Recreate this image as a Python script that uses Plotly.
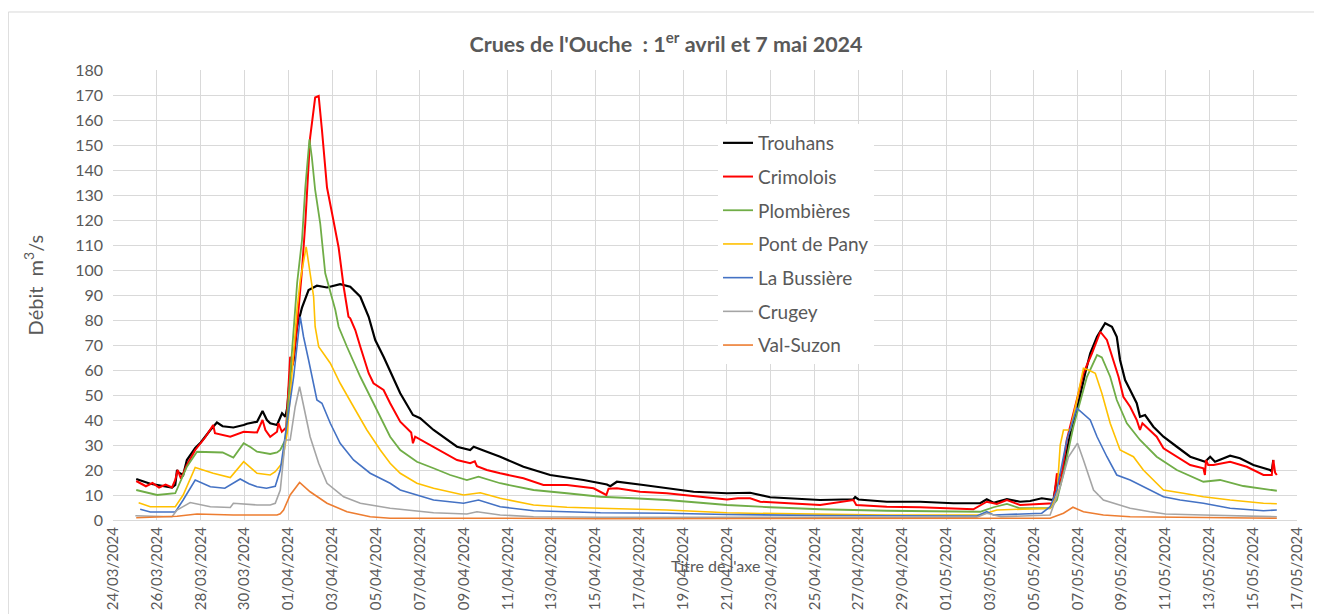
import pandas as pd
import plotly.graph_objects as go

START = pd.Timestamp("2024-03-24")

# Times are in days since 24/03/2024 00:00; flows in m3/s
t_trouhans = [1.06, 1.7, 2.69, 2.84, 2.92, 2.99, 3.2, 3.37, 3.75, 4.0, 4.44, 4.74, 5.0, 5.49, 5.96, 6.11, 6.57, 6.82,
              7.02, 7.17, 7.48, 7.71, 7.86, 7.95, 8.08, 8.24, 8.39, 8.62, 8.92, 9.30, 9.76, 10.36, 10.82, 11.28, 11.66,
              11.96, 12.34, 12.64, 13.10, 13.68, 13.86, 14.01, 14.62, 15.69, 16.29, 16.45, 17.05, 17.66, 18.72, 19.94,
              21.46, 22.53, 22.68, 22.98, 24.19, 25.26, 26.48, 28.0, 29.06, 29.97, 32.25, 33.77, 33.85, 34.0, 35.29,
              36.81, 38.33, 39.55, 39.85, 40.16, 40.77, 41.37, 41.83, 42.36, 42.74, 42.89, 43.05, 43.35, 43.66, 43.96,
              44.34, 44.57, 44.88, 45.25, 45.56, 45.78, 45.93, 46.16, 46.39, 46.69, 46.84, 47.07, 47.45, 47.91, 48.52,
              49.13, 49.81, 50.04, 50.26, 50.95, 51.40, 52.01, 52.77, 52.85, 52.92]
q_trouhans = [16.4, 14.5, 13, 14, 20, 19, 18, 24, 28.8, 31, 36, 39, 37.5, 37, 38, 38.5, 39.3, 43.6,
              40, 38.7, 38, 42.7, 41.3, 45, 58.7, 64, 77, 85, 92, 93.7, 93, 94.3, 93.3, 89.3, 81.3,
              72, 65.3, 59.3, 50.7, 42, 41.3, 40.7, 36, 29.3, 28, 29.3, 27.3, 25.3, 21.3, 18,
              16, 14.2, 13.5, 15.3, 14, 12.7, 11.3, 10.7, 10.9, 9.1, 8, 8.3, 9.2, 8.2, 7.3,
              7.3, 6.7, 6.7, 8.3, 6.9, 8.3, 7.3, 7.6, 8.7, 8, 8, 16, 20, 34.7, 44,
              58.7, 66.7, 73.3, 78.7, 77.3, 73.3, 64, 56, 52, 46.7, 41.3, 42, 37.3, 33.3, 29.3,
              25.3, 23.3, 25.3, 23.3, 25.7, 24.7, 22, 20, 19.5, 24]

t_crimolois = [1.06, 1.5, 1.8, 2.1, 2.4, 2.69, 2.84, 2.95, 3.1, 3.37, 3.75, 4.2, 4.57, 4.65, 5.35, 5.96, 6.57, 6.82,
               6.95, 7.17, 7.48, 7.55, 7.7, 7.9, 8.08, 8.2, 8.4, 8.62, 8.77, 8.99, 9.22, 9.38, 9.53, 9.76, 9.99,
               10.29, 10.52, 10.74, 10.82, 11.05, 11.28, 11.66, 11.88, 12.34, 12.64, 13.10, 13.6, 13.68, 13.78,
               14.62, 15.69, 16.29, 16.5, 16.6, 17.05, 17.66, 18.72, 19.63, 20.70, 21.92, 22.5, 22.6, 22.98, 24.04,
               25.26, 26.79, 28.0, 28.5, 29.06, 29.52, 32.25, 33.77, 33.9, 35.29, 36.81, 39.24, 39.85, 40.31, 40.77,
               41.37, 42.74, 42.89, 43.05, 43.2, 43.50, 43.80, 44.26, 44.65, 45.03, 45.33, 45.63, 45.86, 46.08,
               46.39, 46.69, 46.84, 46.95, 47.60, 47.91, 48.52, 49.13, 49.73, 49.80, 49.85, 49.95, 50.19, 50.95,
               51.71, 52.47, 52.85, 52.92, 53.0, 53.08]
q_crimolois = [15.6, 13.5, 14.8, 13, 14.2, 13, 16, 20, 16.5, 22, 28, 33, 38, 34.7, 33.3, 35.3, 35, 40,
               36, 33.3, 35.3, 38.7, 35.3, 37, 65.3, 62, 78, 100, 118.7, 153, 169, 169.6, 156, 133, 122.7,
               109, 93.3, 81.3, 80.7, 76, 69.3, 58.7, 54.7, 52, 46.7, 39.3, 35, 30.7, 33.3,
               29.3, 24, 22.7, 23.5, 21.5, 20, 18.7, 16.7, 14, 14, 12.7, 10, 12.5, 12.7, 11.3,
               10.7, 9.3, 8.2, 8.7, 8.7, 7.3, 6, 8, 6, 5.3, 5.1, 4.3, 7.3, 6.4, 8,
               6, 6.7, 6.7, 18.7, 14, 32, 42.7, 58.7, 66.7, 75.3, 72, 64, 57.3, 49.3,
               45.3, 40, 36, 38.7, 33.3, 28.7, 25.3, 22, 20.7, 18, 24, 22, 22, 23.3,
               21.3, 18, 18, 24, 19, 18]

t_plombieres = [1.06, 1.5, 2.01, 2.84, 3.37, 3.83, 4.57, 5.0, 5.49, 5.96, 6.3, 6.57, 7.17, 7.48, 7.63, 7.86, 8.1,
                8.4, 8.62, 8.77, 8.96, 9.07, 9.22, 9.45, 9.68, 9.99, 10.14, 10.29, 10.67, 11.28, 11.88, 12.42,
                12.64, 13.10, 13.86, 14.62, 15.38, 16.14, 16.67, 17.66, 19.18, 20.70, 22.23, 23.74, 25.26, 26.79,
                28.0, 29.97, 32.25, 35.29, 39.55, 40.16, 40.77, 41.37, 42.74, 43.05, 43.35, 43.80, 44.42, 44.88,
                45.1, 45.48, 45.78, 46.24, 46.84, 47.60, 48.52, 49.73, 50.49, 51.55, 53.08]
q_plombieres = [12, 11, 10, 10.7, 21.3, 27.3, 27.3, 27, 25, 30.7, 29, 27.3, 26.4, 27, 28, 32, 60,
                95, 112, 133, 152.3, 145, 132, 118.7, 98.7, 89.3, 84, 77.3, 69.3, 57.3, 46.7, 37.3,
                33.3, 28, 23.3, 20.7, 18, 16, 17.3, 14.7, 12, 10.7, 9.3, 8.7, 8, 6.9,
                6, 5.1, 4.3, 3.7, 3.3, 5.1, 6.4, 4.7, 4.7, 8, 18.7, 37.3, 57.3, 66,
                65, 57.3, 48, 38.7, 32, 25.3, 20, 15.3, 16, 13.6, 11.7]

t_pontdepany = [1.17, 1.7, 2.84, 3.2, 3.75, 4.57, 5.35, 5.96, 6.57, 7.17, 7.40, 7.71, 7.95, 8.39, 8.54, 8.81, 8.99,
                9.15, 9.22, 9.38, 9.91, 10.36, 10.97, 11.58, 12.19, 12.64, 13.10, 13.86, 14.62, 15.99, 16.75,
                17.66, 19.18, 20.70, 22.23, 25.26, 28.0, 29.06, 35.29, 39.55, 40.31, 41.37, 42.36, 42.74, 43.05,
                43.2, 43.35, 43.66, 43.96, 44.26, 44.49, 44.80, 45.10, 45.48, 45.93, 46.54, 46.99, 47.91, 48.82,
                49.73, 50.95, 52.47, 53.08]
q_pontdepany = [6.9, 5.3, 5.3, 10, 21, 18.7, 17, 23.3, 18.7, 18, 19.3, 22.7, 35, 84, 96, 109.3, 98.7,
                89.3, 77.3, 69.3, 62.7, 54.7, 45.3, 36, 28, 22.7, 18.7, 14.7, 12.7, 10, 10.9,
                8.7, 6, 5.1, 4.7, 4, 2.9, 2.7, 2, 2, 4, 4.3, 4.7, 4.7, 10,
                30, 36, 36, 48, 60.7, 60, 58.7, 50.7, 38.7, 28, 25.3, 20, 12, 10.7,
                9.3, 8, 6.7, 6.5]

t_bussiere = [1.24, 1.7, 2.84, 3.2, 3.75, 4.44, 5.1, 5.80, 6.2, 6.57, 7.0, 7.40, 7.63, 7.93, 8.24, 8.54, 8.69,
              8.92, 9.30, 9.53, 9.91, 10.36, 10.97, 11.73, 12.64, 13.10, 13.86, 14.62, 15.99, 16.67, 17.66, 19.18,
              22.23, 25.26, 28.0, 32.25, 39.40, 39.85, 40.16, 41.37, 42.36, 42.74, 43.05, 43.50, 43.96, 44.57,
              44.88, 45.33, 45.78, 46.39, 47.15, 47.91, 48.67, 49.73, 50.95, 52.47, 53.08]
q_bussiere = [4.3, 3.2, 3.2, 8, 16, 13.3, 12.7, 16.4, 14.5, 13.3, 12.7, 13.5, 20, 38.7, 57.3, 81.3, 73.3,
              64, 48, 46.7, 38.7, 30.7, 24, 18.7, 14.7, 12, 10, 8, 6.7, 8, 5.3, 3.7,
              2.9, 2.7, 2.2, 1.8, 1.6, 3.3, 2, 2.4, 2.7, 5.3, 12, 32, 44.7, 40,
              33.3, 25.3, 18, 16, 12.7, 9.3, 8, 6.7, 4.7, 3.7, 4]

t_crugey = [1.02, 2.69, 2.92, 3.52, 4.44, 5.35, 5.49, 6.57, 7.17, 7.40, 7.63, 7.86, 8.08, 8.31, 8.51, 8.69, 8.99,
            9.38, 9.76, 10.52, 11.28, 12.64, 13.10, 14.62, 16.14, 16.60, 17.66, 19.18, 22.23, 28.0, 32.25, 39.40,
            39.85, 40.5, 42.74, 43.20, 43.58, 43.99, 44.26, 44.72, 45.17, 45.63, 46.39, 47.30, 48.0, 49.73, 53.08]
q_crugey = [1.7, 1.3, 4, 7, 5.3, 5, 6.7, 6, 6, 6.7, 12, 32, 32, 45.3, 53.3, 45.3, 33.3,
            22.7, 14.7, 9.3, 6.7, 4.7, 4.3, 2.9, 2.4, 3.3, 2, 1.3, 1.1, 1, 1.1, 1.1,
            2.7, 1.3, 2, 13.3, 25.3, 30.7, 24, 12, 8, 6.7, 4.7, 3.3, 2.4, 2, 1.3]

t_valsuzon = [1.06, 2.92, 3.83, 5.49, 7.48, 7.63, 7.78, 8.08, 8.51, 8.99, 9.76, 10.67, 11.73, 12.64, 17.66, 22.23,
              42.74, 43.35, 43.78, 44.26, 45.17, 46.39, 49.73, 53.08]
q_valsuzon = [0.9, 1.5, 2.4, 2, 2, 2.5, 4, 10, 15, 11.3, 6.7, 3.3, 1.3, 0.7, 0.7, 0.5,
              0.7, 2.7, 5.1, 3.3, 2, 1.3, 1, 0.7]

stations = ["Trouhans", "Crimolois", "Plombières", "Pont de Pany", "La Bussière", "Crugey", "Val-Suzon"]
times = [t_trouhans, t_crimolois, t_plombieres, t_pontdepany, t_bussiere, t_crugey, t_valsuzon]
flows = [q_trouhans, q_crimolois, q_plombieres, q_pontdepany, q_bussiere, q_crugey, q_valsuzon]
colors = ["#000000", "#FF0000", "#70AD47", "#FFC000", "#4472C4", "#A5A5A5", "#ED7D31"]
widths = [2.2, 2.0, 1.8, 1.6, 1.6, 1.6, 1.6]

x_range = ["2024-03-24", "2024-05-17"]

TXT = "#595959"
GRID = "#D9D9D9"
FONT = "Lato"

fig = go.Figure()
for name, t, q, c, w in zip(stations, times, flows, colors, widths):
    fig.add_trace(go.Scatter(
        x=START + pd.to_timedelta(t, unit="D"), y=q, mode="lines", name=name,
        legendgroup=name, line=dict(color=c, width=w)))

# The page body adds an 8 px offset; the figure is sized to fill the rest of the window.
fig.update_layout(
    width=1314, height=606,
    margin=dict(l=105, r=25, t=62, b=94, autoexpand=False),
    paper_bgcolor="white", plot_bgcolor="white",
    font=dict(family=FONT, color=TXT),
    title=dict(text="<b>Crues de l'Ouche  : 1<sup>er</sup> avril et 7 mai 2024</b>",
               x=0.5008, xanchor="center", y=0.939, yanchor="middle",
               font=dict(size=21.5, color=TXT, family=FONT)),
    showlegend=True,
    legend=dict(x=0.511, xanchor="left", y=0.88, yanchor="top",
                bgcolor="white", borderwidth=0, font=dict(size=19, color=TXT, family=FONT),
                tracegroupgap=6, itemwidth=30),
    xaxis=dict(type="date", range=x_range, tick0="2024-03-24", dtick=2 * 86400000,
               tickformat="%d/%m/%Y", tickangle=-90, tickfont=dict(size=15, color=TXT),
               showgrid=True, gridcolor=GRID, gridwidth=1, showline=True, linecolor=GRID,
               ticks="", zeroline=False, automargin=False),
    yaxis=dict(range=[0, 180], dtick=10, tickfont=dict(size=16, color=TXT),
               showgrid=True, gridcolor=GRID, gridwidth=1, zeroline=False, ticks="",
               ticklabelstandoff=9, automargin=False),
    shapes=[dict(type="rect", xref="paper", yref="paper", x0=-0.0884, x1=1.0187, y0=-0.24, y1=1.1289,
                 line=dict(color=GRID, width=1), fillcolor="rgba(0,0,0,0)", layer="below")],
    annotations=[
        dict(text="Débit  m<sup>3</sup>/s", xref="paper", yref="paper", x=-0.0673, y=0.522,
             xanchor="center", yanchor="middle", textangle=-90, showarrow=False,
             font=dict(size=20, color=TXT, family=FONT)),
        dict(text="Titre de l'axe", xref="paper", yref="paper", x=0.5086, y=-0.1,
             xanchor="center", yanchor="middle", showarrow=False,
             font=dict(size=16, color=TXT, family=FONT)),
    ],
)

fig.write_html("out.html")
